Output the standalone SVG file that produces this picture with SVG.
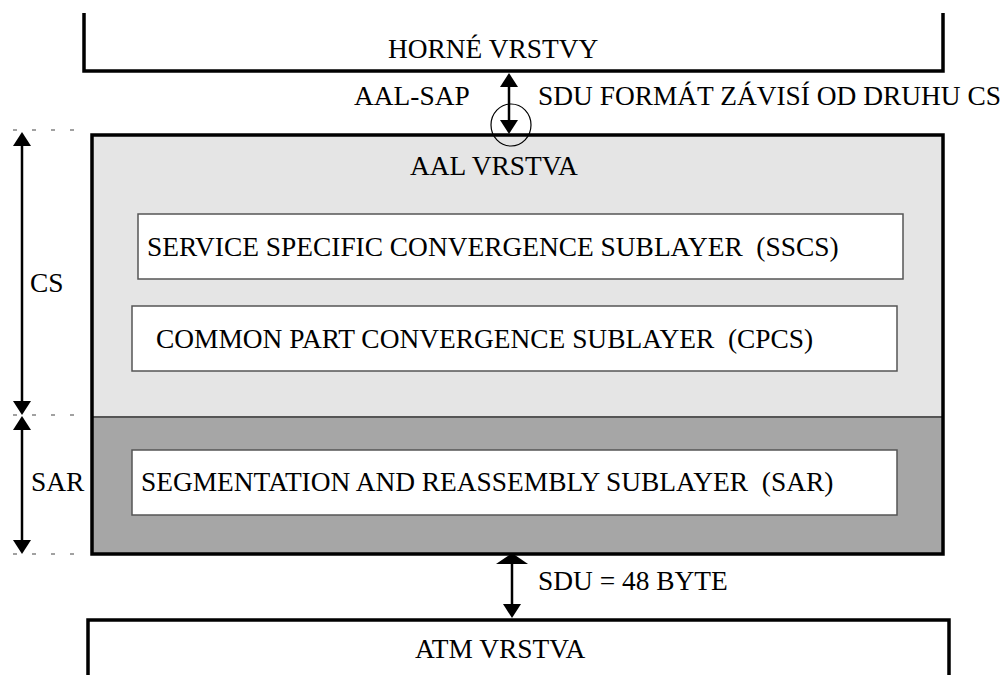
<svg xmlns="http://www.w3.org/2000/svg" width="1008" height="675" viewBox="0 0 1008 675">
<defs>
<polygon id="ahUp" points="0,0 -9,14 9,14" fill="#000"/>
<polygon id="ahDown" points="0,0 -9,-14 9,-14" fill="#000"/>
</defs>
<rect width="1008" height="675" fill="#fff"/>
<g id="horne">
<polyline points="84,13 84,71 943,71 943,13" fill="none" stroke="#000" stroke-width="3.5"/>
<text x="388" y="58" font-family="Liberation Serif" font-size="27.4">HORNÉ VRSTVY</text>
</g>
<g id="aal">
<rect x="92" y="135" width="851" height="282" fill="#e5e5e5"/>
<rect x="92" y="417" width="851" height="137" fill="#a6a6a6"/>
<line x1="92" y1="417" x2="943" y2="417" stroke="#555" stroke-width="2"/>
<rect x="92" y="135" width="851" height="419" fill="none" stroke="#000" stroke-width="3.5"/>
<text x="410" y="175" font-family="Liberation Serif" font-size="27.4">AAL VRSTVA</text>
</g>
<g id="sscs">
<rect x="138" y="214" width="765" height="65" fill="#fff" stroke="#555" stroke-width="1.5"/>
<text x="147" y="256" font-family="Liberation Serif" font-size="27.4" xml:space="preserve">SERVICE SPECIFIC CONVERGENCE SUBLAYER  (SSCS)</text>
</g>
<g id="cpcs">
<rect x="132" y="306" width="765" height="65" fill="#fff" stroke="#555" stroke-width="1.5"/>
<text x="156" y="348" font-family="Liberation Serif" font-size="27.4" xml:space="preserve">COMMON PART CONVERGENCE SUBLAYER  (CPCS)</text>
</g>
<g id="sar">
<rect x="132" y="450" width="765" height="65" fill="#fff" stroke="#555" stroke-width="1.5"/>
<text x="141" y="491" font-family="Liberation Serif" font-size="27.4" xml:space="preserve">SEGMENTATION AND REASSEMBLY SUBLAYER  (SAR)</text>
</g>
<g id="atm">
<polyline points="88,675 88,620 949,620 949,675" fill="none" stroke="#000" stroke-width="3.5"/>
<text x="415" y="658" font-family="Liberation Serif" font-size="27.4">ATM VRSTVA</text>
</g>
<g id="connectors" stroke="#000" stroke-width="2.5">
<line x1="509" y1="84" x2="509" y2="122"/>
<use href="#ahUp" x="509" y="73" stroke="none"/>
<use href="#ahDown" x="509" y="134" stroke="none"/>
<ellipse cx="511" cy="125" rx="20" ry="21" fill="none" stroke-width="1.2"/>
<line x1="512" y1="562" x2="512" y2="608"/>
<polygon points="512,553 496,564 528,564" fill="#000" stroke="none"/>
<use href="#ahDown" x="512" y="618" stroke="none"/>
<line x1="22" y1="144" x2="22" y2="404"/>
<use href="#ahUp" x="22" y="132" stroke="none"/>
<use href="#ahDown" x="22" y="415" stroke="none"/>
<line x1="22" y1="428" x2="22" y2="542"/>
<use href="#ahUp" x="22" y="416" stroke="none"/>
<use href="#ahDown" x="22" y="554" stroke="none"/>
<g stroke="#444" stroke-width="1.2" stroke-dasharray="4 15">
<line x1="13" y1="130" x2="82" y2="130"/>
<line x1="13" y1="415" x2="82" y2="415"/>
<line x1="13" y1="554" x2="82" y2="554"/>
</g>
</g>
<text x="354" y="105" font-family="Liberation Serif" font-size="27.4">AAL-SAP</text>
<text x="538" y="105" font-family="Liberation Serif" font-size="27.4">SDU FORMÁT ZÁVISÍ OD DRUHU CS</text>
<text x="30" y="292" font-family="Liberation Serif" font-size="27.4">CS</text>
<text x="31" y="491" font-family="Liberation Serif" font-size="27.4">SAR</text>
<text x="538" y="590" font-family="Liberation Serif" font-size="27.4">SDU = 48 BYTE</text>
</svg>
